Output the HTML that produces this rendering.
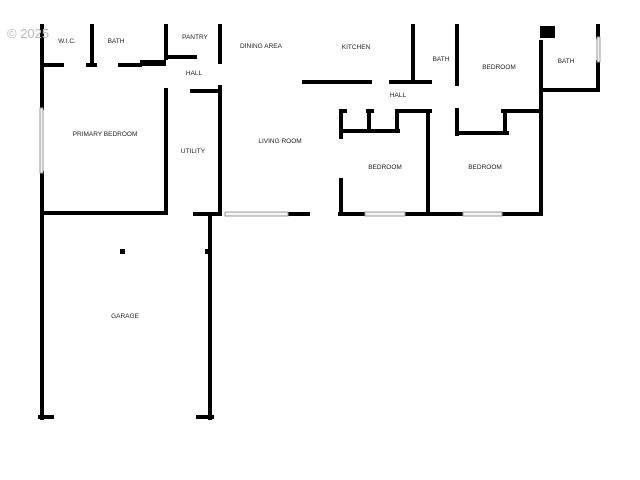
<!DOCTYPE html>
<html><head><style>body{margin:0;background:#fff}svg{display:block}text{font-family:"Liberation Sans",sans-serif;font-size:6.5px;fill:#222;text-anchor:middle}</style></head><body>
<svg width="640" height="480" viewBox="0 0 640 480" xmlns="http://www.w3.org/2000/svg">
<g stroke="#000" stroke-width="4" fill="none" stroke-linecap="square">
<path d="M42 26V108M42 173V418"/>
<path d="M42 65H62M88 65H95M120 65H140"/>
<path d="M92 26V65"/>
<path d="M166 26V58M166 90V213"/>
<path d="M168 57H195"/>
<path d="M220 26V62M220 87V214"/>
<path d="M192 91H220"/>
<path d="M42 213H166M195 214H220M290 214H308M340 214H365M405 214H463M502 214H541"/>
<path d="M304 82H370M391 82H430M413 26V82M457 26V84"/>
<path d="M541 42V68M541 68V214M541 90H598M598 26V37M598 62V90"/>
<path d="M341 111V137M341 180V214M341 111H345M368 111H372M397 111H430M341 131H398M369 111V131M397 111V131M428 111V214"/>
<path d="M457 110V134M457 133H507M505 111V133M503 111H541"/>
<path d="M210 215V418M40 417H52M198 417H212"/>
</g>
<rect x="140" y="60" width="26" height="6" fill="#000"/>
<rect x="540" y="26" width="15" height="12" fill="#000"/>
<rect x="120" y="249" width="5" height="5" fill="#000"/>
<rect x="205" y="249" width="5" height="5" fill="#000"/>
<g stroke="#999" stroke-width="1" fill="#f4f4f4">
<rect x="40" y="108" width="3" height="65"/>
<rect x="225" y="212" width="63" height="4"/>
<rect x="365" y="212" width="40" height="4"/>
<rect x="463" y="212" width="39" height="4"/>
<rect x="597" y="37" width="3" height="25"/>
</g>
<text x="7" y="38" style="font-size:13px;fill:#bbb;text-anchor:start">© 2025</text>
<text x="67" y="43">W.I.C.</text>
<text x="116" y="43">BATH</text>
<text x="195" y="39">PANTRY</text>
<text x="261" y="48">DINING AREA</text>
<text x="356" y="49">KITCHEN</text>
<text x="441" y="61">BATH</text>
<text x="499" y="69">BEDROOM</text>
<text x="566" y="63">BATH</text>
<text x="194" y="75">HALL</text>
<text x="398" y="97">HALL</text>
<text x="105" y="136">PRIMARY BEDROOM</text>
<text x="193" y="153">UTILITY</text>
<text x="280" y="143">LIVING ROOM</text>
<text x="385" y="169">BEDROOM</text>
<text x="485" y="169">BEDROOM</text>
<text x="125" y="318">GARAGE</text>
</svg>
</body></html>
